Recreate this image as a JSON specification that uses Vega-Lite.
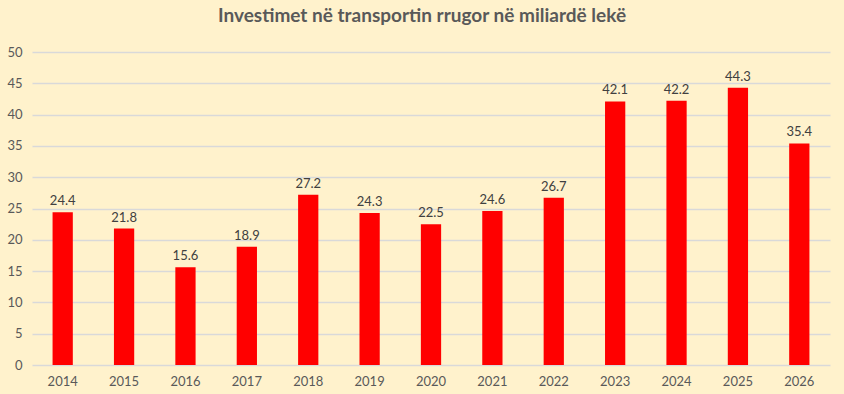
{
  "$schema": "https://vega.github.io/schema/vega-lite/v6.json",
  "autosize": {"type": "none"},
  "width": 798,
  "height": 313,
  "padding": {"left": 32, "top": 52, "right": 14, "bottom": 29},
  "background": "#FFF2CC",
  "title": {
    "text": "Investimet në transportin rrugor në miliardë lekë",
    "font": "Lato",
    "fontSize": 19,
    "fontWeight": "bold",
    "color": "#595959",
    "anchor": "middle",
    "dx": -9,
    "offset": 20
  },
  "data": {
    "values": [
      {"year": "2014", "value": 24.4},
      {"year": "2015", "value": 21.8},
      {"year": "2016", "value": 15.6},
      {"year": "2017", "value": 18.9},
      {"year": "2018", "value": 27.2},
      {"year": "2019", "value": 24.3},
      {"year": "2020", "value": 22.5},
      {"year": "2021", "value": 24.6},
      {"year": "2022", "value": 26.7},
      {"year": "2023", "value": 42.1},
      {"year": "2024", "value": 42.2},
      {"year": "2025", "value": 44.3},
      {"year": "2026", "value": 35.4}
    ]
  },
  "config": {
    "view": {"stroke": null},
    "font": "Lato"
  },
  "encoding": {
    "x": {
      "field": "year",
      "type": "nominal",
      "sort": null,
      "scale": {"paddingInner": 0.67, "paddingOuter": 0.335},
      "axis": {
        "title": null,
        "labelAngle": 0,
        "labelFontSize": 13,
        "labelColor": "#595959",
        "labelFont": "Lato",
        "domain": false,
        "ticks": false,
        "labelPadding": 10
      }
    },
    "y": {
      "field": "value",
      "type": "quantitative",
      "scale": {"domain": [0, 50], "nice": false},
      "axis": {
        "title": null,
        "values": [0, 5, 10, 15, 20, 25, 30, 35, 40, 45, 50],
        "labelFontSize": 13,
        "labelColor": "#595959",
        "labelFont": "Lato",
        "domain": false,
        "ticks": false,
        "labelPadding": 10,
        "gridColor": "#D9D9D9",
        "gridWidth": 1.3
      }
    }
  },
  "layer": [
    {"mark": {"type": "bar", "color": "#FF0000"}},
    {
      "mark": {"type": "text", "dy": -11, "fontSize": 13, "color": "#404040", "font": "Lato"},
      "encoding": {"text": {"field": "value", "type": "quantitative", "format": ".1f"}}
    }
  ]
}
